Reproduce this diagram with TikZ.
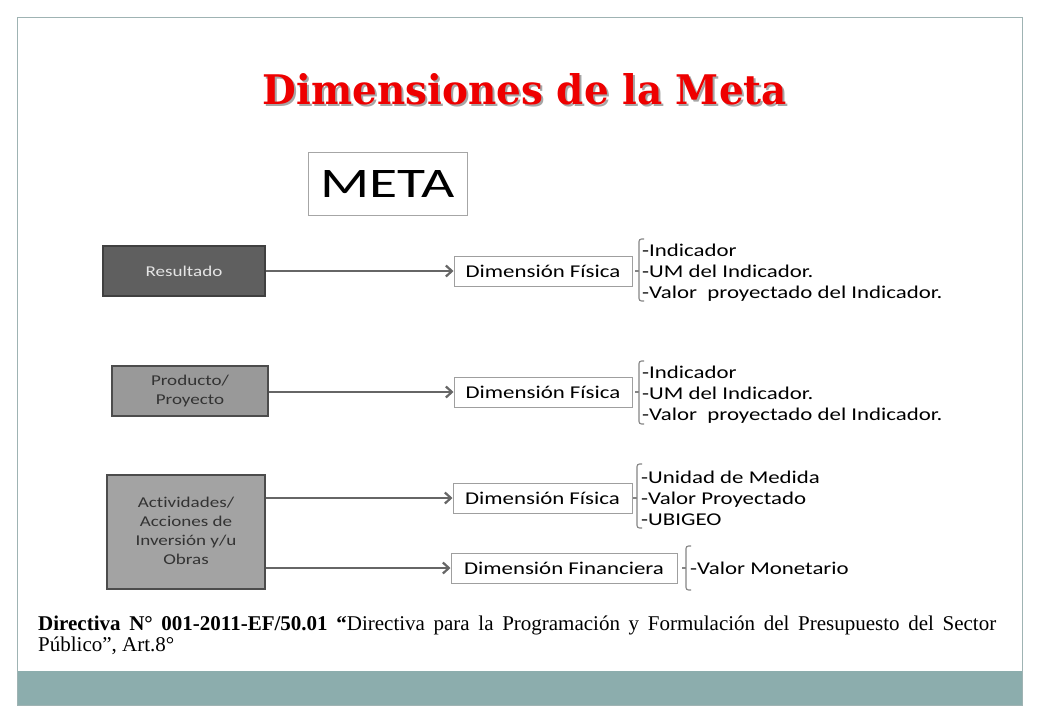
\documentclass[tikz,border=0pt]{standalone}
\usepackage{fontspec}
\usepackage{graphicx}
\usetikzlibrary{arrows.meta}
\newfontfamily\calfont[Ligatures=NoCommon]{Carlito}
\newfontfamily\serfont{Liberation Serif}
\newfontfamily\titlefont{DejaVu Serif}
\definecolor{bandcol}{HTML}{8CADAD}
\definecolor{framecol}{HTML}{9FB3B3}
\definecolor{titlered}{HTML}{EE0000}
\definecolor{darkbox}{HTML}{5F5F5F}
\definecolor{midbox}{HTML}{999999}
\definecolor{lightbox}{HTML}{A3A3A3}
\definecolor{arrcol}{HTML}{666666}
\definecolor{brkcol}{HTML}{858585}
\newcommand{\sx}[1]{\scalebox{1.27}[1]{#1}}
\tikzset{
  gbox/.style={draw=#1, line width=1.3pt, inner sep=0pt},
  dimbox/.style={draw=gray!75, line width=1pt, fill=white, inner sep=0pt, minimum height=30pt,
     font=\calfont\fontsize{18}{20}\selectfont},
  labtxt/.style={font=\calfont\fontsize{15}{19}\selectfont, align=center},
  itemtxt/.style={anchor=base west, inner sep=0pt, font=\calfont\fontsize{18}{20}\selectfont},
  arr/.style={draw=arrcol, line width=2.6pt, -{Straight Barb[length=6pt,width=11pt,line width=2.2pt]}},
  brk/.style={draw=brkcol, line width=1.1pt, rounded corners=2.5pt},
}
\newcommand{\brkt}[4]{%
  \draw[brk] (#1+5,#2) -| (#1,#4) |- (#1+5,#3);
  \draw[draw=brkcol, line width=1.1pt] (#1,#4) -- (#1-4,#4);}
\begin{document}
\begin{tikzpicture}[x=1pt,y=-1pt]
\useasboundingbox (0,0) rectangle (1040,720);
\fill[white] (0,0) rectangle (1040,720);
\fill[bandcol] (17,671) rectangle (1022,705);
\draw[framecol, line width=1pt] (17,17) rectangle (1022,705);

% title
\node[anchor=base, inner sep=0pt, text=black!35] (titleshadow) at (527,106)
  {\resizebox{524pt}{31pt}{\titlefont\bfseries\fontsize{40}{40}\selectfont Dimensiones de la Meta}};
\node[anchor=base, inner sep=0pt, text=titlered] (title) at (525,104)
  {\resizebox{524pt}{31pt}{\titlefont\bfseries\fontsize{40}{40}\selectfont Dimensiones de la Meta}};

% META
\node[draw=gray!70, line width=1pt, minimum width=159pt, minimum height=63pt, inner sep=0pt] (meta) at (387.5,183.5)
  {\resizebox{134pt}{27pt}{\calfont\fontsize{40}{40}\selectfont META}};

% left boxes
\node[gbox=black!75, fill=darkbox, minimum width=162pt, minimum height=50pt, labtxt, text=black!10] (res) at (184,271)
  {\sx{Resultado}};
\node[gbox=black!70, fill=midbox, minimum width=156pt, minimum height=50pt, labtxt, text=black!80] (prod) at (190,391)
  {\sx{\begin{tabular}{@{}c@{}}Producto/\\Proyecto\end{tabular}}};
\node[gbox=black!70, fill=lightbox, minimum width=158pt, minimum height=114pt, labtxt, text=black!80] (act) at (186,532)
  {\sx{\begin{tabular}{@{}c@{}}Actividades/\\Acciones de\\Inversión y/u\\Obras\end{tabular}}};

% dimension boxes
\node[dimbox, minimum width=178pt] (df1) at (543,271) {\sx{Dimensión Física}};
\node[dimbox, minimum width=178pt] (df2) at (543,392) {\sx{Dimensión Física}};
\node[dimbox, minimum width=179pt] (df3) at (542.5,498) {\sx{Dimensión Física}};
\node[dimbox, minimum width=226pt] (dfin) at (564,568) {\sx{Dimensión Financiera}};

% arrows
\draw[arr] (res.east) -- (res.east -| df1.west);
\draw[arr] (prod.east |- df2.west) -- (df2.west);
\draw[arr] (act.east |- df3.west) -- (df3.west);
\draw[arr] (act.east |- dfin.west) -- (dfin.west);

% brackets
\brkt{639}{239}{301}{271}
\brkt{639}{361}{424}{392}
\brkt{637}{464}{528}{498}
\brkt{686}{546}{590}{568}

% items
\node[itemtxt] (i11) at (642,256) {\sx{-Indicador}};
\node[itemtxt] (i12) at (642,277) {\sx{-UM del Indicador.}};
\node[itemtxt] (i13) at (642,298) {\sx{-Valor\ \ proyectado del Indicador.}};
\node[itemtxt] (i21) at (642,378) {\sx{-Indicador}};
\node[itemtxt] (i22) at (642,399) {\sx{-UM del Indicador.}};
\node[itemtxt] (i23) at (642,420) {\sx{-Valor\ \ proyectado del Indicador.}};
\node[itemtxt] (i31) at (641,483) {\sx{-Unidad de Medida}};
\node[itemtxt] (i32) at (641,504) {\sx{-Valor Proyectado}};
\node[itemtxt] (i33) at (641,525) {\sx{-UBIGEO}};
\node[itemtxt] (i41) at (690,574) {\sx{-Valor Monetario}};

% footer
\node[anchor=base west, inner sep=0pt, font=\serfont\fontsize{21}{24}\selectfont] (foot1) at (38,630)
  {\makebox[958pt][s]{\textbf{Directiva N° 001-2011-EF/50.01 “}Directiva para la Programación y Formulación del Presupuesto del Sector}};
\node[anchor=base west, inner sep=0pt, font=\serfont\fontsize{21}{24}\selectfont] (foot2) at (38,651)
  {Público”, Art.8°};
\end{tikzpicture}
\end{document}
